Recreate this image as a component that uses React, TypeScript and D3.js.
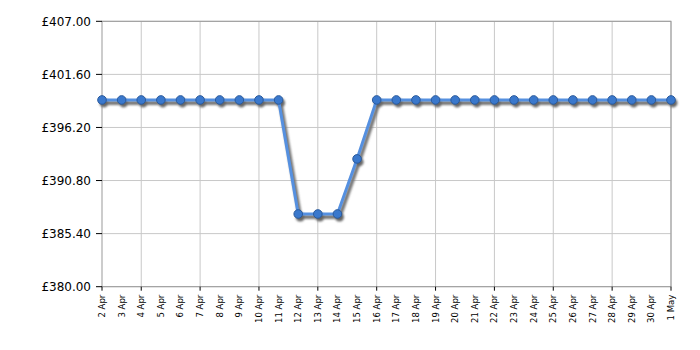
import React from "react";
import * as d3 from "d3";

const dates = ["2 Apr","3 Apr","4 Apr","5 Apr","6 Apr","7 Apr","8 Apr","9 Apr","10 Apr","11 Apr","12 Apr","13 Apr","14 Apr","15 Apr","16 Apr","17 Apr","18 Apr","19 Apr","20 Apr","21 Apr","22 Apr","23 Apr","24 Apr","25 Apr","26 Apr","27 Apr","28 Apr","29 Apr","30 Apr","1 May"];
const prices = [399,399,399,399,399,399,399,399,399,399,387.4,387.4,387.4,393,399,399,399,399,399,399,399,399,399,399,399,399,399,399,399,399];
const yTicks = [380, 385.4, 390.8, 396.2, 401.6, 407];

export default function App() {
  const W = 700, H = 350;
  const left = 102, right = 671, top = 21.3, bottom = 286.7;
  const x = d3.scalePoint<string>().domain(dates).range([left, right]);
  const y = d3.scaleLinear().domain([380, 407]).range([bottom, top]);
  const line = d3.line<number>().x((_, i) => x(dates[i])!).y(d => y(d));
  const path = line(prices)!;
  const gridIdx = dates.map((_, i) => i).filter(i => i >= 2 && (i - 2) % 3 === 0);
  const tickIdx = Array.from(new Set([0, ...gridIdx, dates.length - 1]));
  return (
    <svg width={W} height={H} style={{ position: "absolute", left: 0, top: 0 }} fontFamily="'DejaVu Sans', Verdana, sans-serif">
      <defs>
        <filter id="blur" x="-20%" y="-20%" width="140%" height="140%">
          <feGaussianBlur stdDeviation="0.8" />
        </filter>
      </defs>
      <rect x={0} y={0} width={W} height={H} fill="#fff" />
      {yTicks.map(t => (
        <line key={"gy" + t} x1={left} x2={right} y1={y(t)} y2={y(t)} stroke="#c8c8c8" strokeWidth={1} />
      ))}
      {gridIdx.map(i => (
        <line key={"gx" + i} x1={x(dates[i])} x2={x(dates[i])} y1={top} y2={bottom} stroke="#c8c8c8" strokeWidth={1} />
      ))}
      <rect x={left} y={top} width={right - left} height={bottom - top} fill="none" stroke="#999" strokeWidth={1} />
      {yTicks.map(t => (
        <g key={"yt" + t}>
          <line x1={left - 6} x2={left} y1={y(t)} y2={y(t)} stroke="#000" strokeWidth={1} />
          <text x={left - 11} y={y(t)} dy="0.35em" textAnchor="end" fontSize={12} fill="#000">{"£" + t.toFixed(2)}</text>
        </g>
      ))}
      {tickIdx.map(i => (
        <line key={"xt" + i} x1={x(dates[i])} x2={x(dates[i])} y1={bottom} y2={bottom + 4} stroke="#000" strokeWidth={1} />
      ))}
      {dates.map(d => (
        <text key={"xl" + d} transform={`translate(${x(d)! + 3},${bottom + 8}) rotate(-90)`} textAnchor="end" fontSize={8.5} fill="#000">{d}</text>
      ))}
      <g transform="translate(2,3)" filter="url(#blur)">
        <path d={path} fill="none" stroke="#777" strokeWidth={4} strokeLinejoin="round" />
        {prices.map((p, i) => (
          <circle key={"sc" + i} cx={x(dates[i])} cy={y(p)} r={4.5} fill="#666" />
        ))}
      </g>
      <path d={path} fill="none" stroke="#5590e0" strokeWidth={3} strokeLinejoin="round" />
      {prices.map((p, i) => (
        <circle key={"c" + i} cx={x(dates[i])} cy={y(p)} r={4.3} fill="#3a78cc" stroke="#2a5a9c" strokeWidth={1} />
      ))}
    </svg>
  );
}
